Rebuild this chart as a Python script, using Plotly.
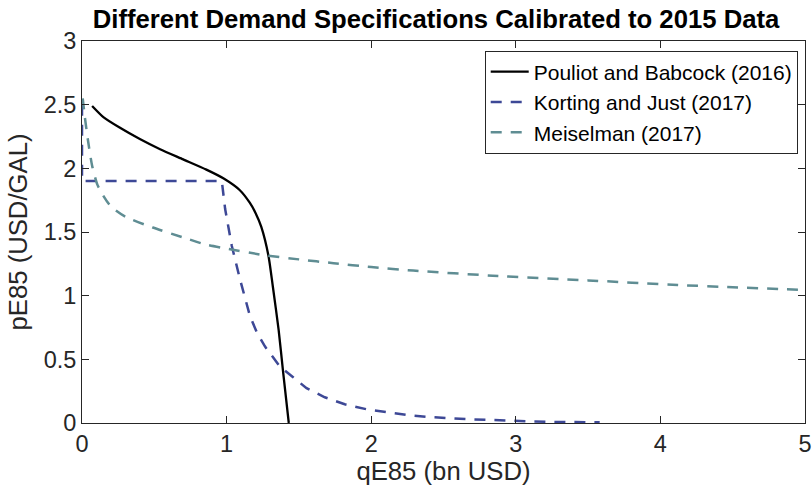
import plotly.graph_objects as go

# Demand curves for E85, calibrated to 2015 data
pouliot_q = [0.07, 0.15, 0.26, 0.40, 0.54, 0.70, 0.86, 0.98, 1.09, 1.16, 1.20, 1.24, 1.29, 1.32, 1.36, 1.39, 1.43]
pouliot_p = [2.49, 2.40, 2.32, 2.23, 2.15, 2.07, 1.99, 1.92, 1.83, 1.73, 1.65, 1.54, 1.31, 1.07, 0.73, 0.41, 0.00]

korting_q = [0.0, 0.0, 0.967, 0.99, 1.036, 1.093, 1.162, 1.21, 1.266, 1.32, 1.369, 1.46, 1.553, 1.679,
             1.817, 1.967, 2.105, 2.25, 2.40, 2.54, 2.68, 2.83, 2.97, 3.12, 3.30, 3.58]
korting_p = [2.50, 1.90, 1.90, 1.68, 1.39, 1.127, 0.838, 0.71, 0.60, 0.515, 0.443, 0.36, 0.273, 0.202,
             0.147, 0.108, 0.084, 0.063, 0.047, 0.037, 0.029, 0.024, 0.017, 0.012, 0.008, 0.005]

meiselman_q = [0.005, 0.02, 0.04, 0.07, 0.107, 0.15, 0.20, 0.30, 0.49, 0.72, 0.86, 1.0, 1.25, 1.5,
               1.74, 2.0, 2.29, 2.84, 3.5, 4.12, 4.5, 5.0]
meiselman_p = [2.55, 2.40, 2.23, 2.02, 1.87, 1.78, 1.70, 1.62, 1.535, 1.45, 1.40, 1.37, 1.32, 1.285,
               1.255, 1.225, 1.197, 1.157, 1.12, 1.084, 1.066, 1.045]

x_ticks = [0, 1, 2, 3, 4, 5]
y_ticks = [0, 0.5, 1, 1.5, 2, 2.5, 3]
y_tick_text = ["0", "0.5", "1", "1.5", "2", "2.5", "3"]

INK = "#262626"
FONT = "Liberation Sans, Arial, Helvetica, sans-serif"
DASH = "11px,9px"

fig = go.Figure()
fig.add_trace(go.Scatter(x=pouliot_q, y=pouliot_p, mode="lines", name="Pouliot and Babcock (2016)",
                         line=dict(color="#000000", width=2.3, shape="spline", smoothing=0.6)))
fig.add_trace(go.Scatter(x=korting_q, y=korting_p, mode="lines", name="Korting and Just (2017)",
                         line=dict(color="#3D4896", width=2.5, dash=DASH)))
fig.add_trace(go.Scatter(x=meiselman_q, y=meiselman_p, mode="lines", name="Meiselman (2017)",
                         line=dict(color="#5F8D93", width=2.5, dash=DASH, shape="spline", smoothing=0.6)))

axis_common = dict(showline=True, linecolor=INK, linewidth=1, mirror="ticks", ticks="inside",
                   ticklen=7, tickwidth=1, tickcolor=INK, showgrid=False, zeroline=False,
                   ticklabeloverflow="allow", automargin=False,
                   tickfont=dict(family=FONT, size=23.5, color=INK))

fig.update_layout(
    width=812, height=494,
    margin=dict(l=82, r=7, t=41, b=71),
    paper_bgcolor="white", plot_bgcolor="white",
    font=dict(family=FONT, color=INK),
    title=dict(text="Different Demand Specifications Calibrated to 2015 Data",
               font=dict(family=FONT, size=25.7, color="#000000", weight="bold"),
               x=0.537, xanchor="center", y=1 - 19 / 494, yanchor="middle", yref="container"),
    xaxis=dict(range=[0, 5], tickvals=x_ticks, ticktext=[str(v) for v in x_ticks],
               title=dict(text="qE85 (bn USD)", font=dict(family=FONT, size=25.7, color=INK), standoff=3),
               **axis_common),
    yaxis=dict(range=[0, 3], tickvals=y_ticks, ticktext=y_tick_text,
               title=dict(text="pE85 (USD/GAL)", font=dict(family=FONT, size=25.7, color=INK), standoff=8),
               **axis_common),
    legend=dict(x=0.557, y=0.975, xanchor="left", yanchor="top", itemwidth=38,
                font=dict(family=FONT, size=21, color="#000000"),
                bgcolor="white", bordercolor=INK, borderwidth=1, tracegroupgap=0),
    showlegend=True,
)

fig.write_html("out.html")
